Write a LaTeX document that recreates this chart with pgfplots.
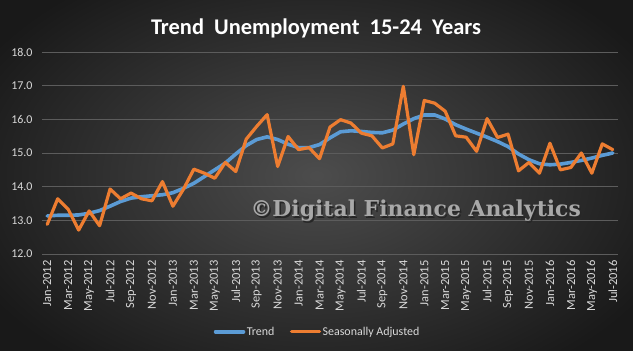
\documentclass[border=0pt]{standalone}
\usepackage{fontspec}
\setmainfont{Carlito}
\newfontfamily\wmfont{DejaVu Serif}
\usepackage{pgfplots}
\usepackage{pgfplotstable}
\pgfplotsset{compat=1.18}
\definecolor{trendblue}{HTML}{5B9BD5}
\definecolor{saorange}{HTML}{ED7D31}
\definecolor{gridc}{HTML}{5C5C5C}
\definecolor{labc}{HTML}{D9D9D9}
\definecolor{wmc}{HTML}{A8A8A8}

\pgfplotstableread{
i trend sa
0 13.13 12.88
1 13.15 13.64
2 13.15 13.33
3 13.16 12.71
4 13.21 13.28
5 13.29 12.84
6 13.42 13.93
7 13.56 13.64
8 13.66 13.81
9 13.70 13.64
10 13.73 13.58
11 13.76 14.15
12 13.82 13.42
13 13.95 13.92
14 14.10 14.52
15 14.30 14.40
16 14.50 14.25
17 14.70 14.72
18 14.97 14.45
19 15.22 15.41
20 15.40 15.79
21 15.48 16.14
22 15.40 14.60
23 15.26 15.49
24 15.16 15.10
25 15.16 15.16
26 15.25 14.83
27 15.45 15.77
28 15.63 15.99
29 15.66 15.89
30 15.64 15.59
31 15.61 15.51
32 15.60 15.15
33 15.68 15.27
34 15.86 16.98
35 16.02 14.95
36 16.13 16.56
37 16.13 16.48
38 16.01 16.24
39 15.84 15.51
40 15.71 15.47
41 15.59 15.05
42 15.47 16.02
43 15.34 15.46
44 15.19 15.56
45 14.97 14.47
46 14.80 14.72
47 14.68 14.40
48 14.65 15.29
49 14.67 14.50
50 14.72 14.57
51 14.78 15.00
52 14.85 14.40
53 14.93 15.27
54 15.00 15.10
}\datatable

\begin{document}
\begin{tikzpicture}
\useasboundingbox (0,0) rectangle (633bp,351bp);
\shade[inner color=black!70, outer color=black!90] (-60bp,-60bp) rectangle (693bp,411bp);
\node[anchor=base, font=\bfseries\fontsize{22.5}{26}\selectfont, text=white] at (316bp,316bp) {Trend\ \ Unemployment\ \ 15-24\ \ Years};
\begin{axis}[
  at={(42bp,97bp)}, anchor=south west,
  scale only axis, width=576bp, height=202bp,
  xmin=-0.5, xmax=54.5, ymin=12, ymax=18,
  ytick={12,13,...,18},
  xtick={0,2,...,54},
  xticklabels={Jan-2012,Mar-2012,May-2012,Jul-2012,Sep-2012,Nov-2012,
    Jan-2013,Mar-2013,May-2013,Jul-2013,Sep-2013,Nov-2013,
    Jan-2014,Mar-2014,May-2014,Jul-2014,Sep-2014,Nov-2014,
    Jan-2015,Mar-2015,May-2015,Jul-2015,Sep-2015,Nov-2015,
    Jan-2016,Mar-2016,May-2016,Jul-2016},
  axis line style={draw=none},
  tick style={draw=none},
  major tick length=0pt,
  ymajorgrids,
  grid style={gridc, line width=0.9bp},
  /pgf/number format/assume math mode=true,
  yticklabel={\pgfmathprintnumber[fixed,fixed zerofill,precision=1]{\tick}},
  y tick label style={font=\fontsize{12}{13}\selectfont, text=labc, xshift=-6bp},
  x tick label style={rotate=90, anchor=east, font=\fontsize{12.5}{13}\selectfont, text=labc, xshift=-3bp},
  legend columns=2,
  legend style={at={(0.478,-0.385)}, anchor=center, draw=none, fill=none,
    text=labc, font=\fontsize{12}{13}\selectfont,
    /tikz/every even column/.append style={column sep=14bp},
    nodes={inner xsep=1.5bp}},
  legend image code/.code={\draw[#1] (0bp,0bp) -- (28bp,0bp);},
]
\addplot[trendblue, line width=3.6bp, line join=round, line cap=round] table[x=i, y=trend] {\datatable};
\addlegendentry{Trend}
\addplot[saorange, line width=3.2bp, line join=round, line cap=round] table[x=i, y=sa] {\datatable};
\addlegendentry{Seasonally Adjusted}
\end{axis}
\node[anchor=base west, font=\wmfont\bfseries\fontsize{22}{24}\selectfont, text=black!85] at (248.5bp,132.5bp) {©Digital Finance Analytics};
\node[anchor=base west, font=\wmfont\bfseries\fontsize{22}{24}\selectfont, text=wmc] at (247bp,134bp) {©Digital Finance Analytics};
\end{tikzpicture}
\end{document}
